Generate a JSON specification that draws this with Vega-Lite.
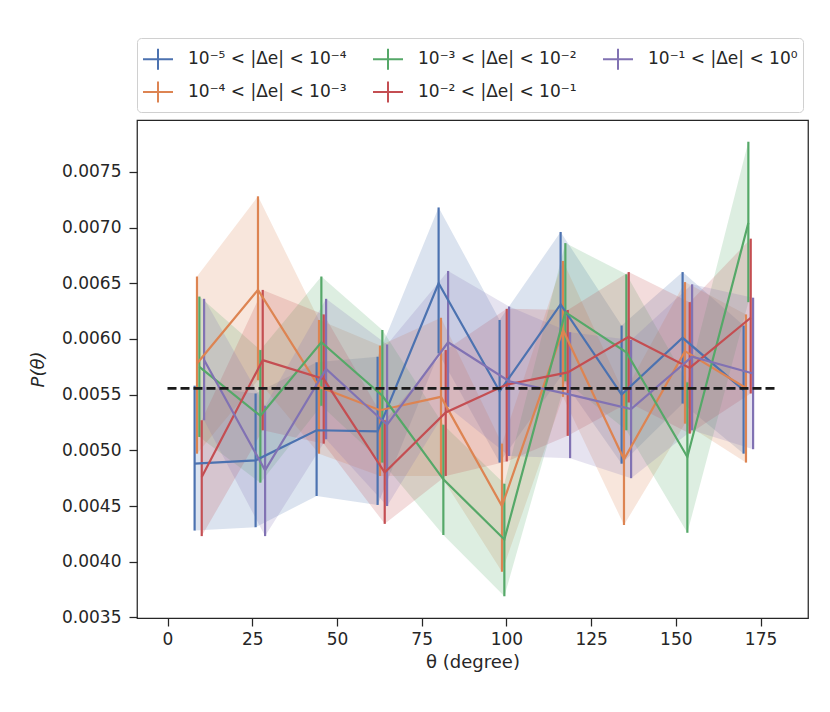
{
  "$schema": "https://vega.github.io/schema/vega-lite/v6.json",
  "autosize": {"type": "none"},
  "width": 671,
  "height": 498,
  "padding": {"left": 137, "top": 120, "right": 22, "bottom": 94},
  "background": "white",
  "datasets": {
    "bins": [
      {"g": "10⁻⁵ < |Δe| < 10⁻⁴", "x": 8.0, "y": 0.00488, "lo": 0.00428, "hi": 0.00558},
      {"g": "10⁻⁵ < |Δe| < 10⁻⁴", "x": 26.0, "y": 0.00491, "lo": 0.00431, "hi": 0.00551},
      {"g": "10⁻⁵ < |Δe| < 10⁻⁴", "x": 44.0, "y": 0.00518, "lo": 0.00459, "hi": 0.00579},
      {"g": "10⁻⁵ < |Δe| < 10⁻⁴", "x": 62.0, "y": 0.00517, "lo": 0.00451, "hi": 0.00584},
      {"g": "10⁻⁵ < |Δe| < 10⁻⁴", "x": 80.0, "y": 0.00650, "lo": 0.00587, "hi": 0.00718},
      {"g": "10⁻⁵ < |Δe| < 10⁻⁴", "x": 98.0, "y": 0.00553, "lo": 0.00489, "hi": 0.00617},
      {"g": "10⁻⁵ < |Δe| < 10⁻⁴", "x": 116.0, "y": 0.00631, "lo": 0.00566, "hi": 0.00696},
      {"g": "10⁻⁵ < |Δe| < 10⁻⁴", "x": 134.0, "y": 0.00550, "lo": 0.00488, "hi": 0.00612},
      {"g": "10⁻⁵ < |Δe| < 10⁻⁴", "x": 152.0, "y": 0.00601, "lo": 0.00542, "hi": 0.00660},
      {"g": "10⁻⁵ < |Δe| < 10⁻⁴", "x": 170.0, "y": 0.00554, "lo": 0.00497, "hi": 0.00612},

      {"g": "10⁻⁴ < |Δe| < 10⁻³", "x": 8.7, "y": 0.00578, "lo": 0.00497, "hi": 0.00656},
      {"g": "10⁻⁴ < |Δe| < 10⁻³", "x": 26.7, "y": 0.00644, "lo": 0.00563, "hi": 0.00728},
      {"g": "10⁻⁴ < |Δe| < 10⁻³", "x": 44.7, "y": 0.00557, "lo": 0.00497, "hi": 0.00617},
      {"g": "10⁻⁴ < |Δe| < 10⁻³", "x": 62.7, "y": 0.00536, "lo": 0.00477, "hi": 0.00594},
      {"g": "10⁻⁴ < |Δe| < 10⁻³", "x": 80.7, "y": 0.00548, "lo": 0.00477, "hi": 0.00619},
      {"g": "10⁻⁴ < |Δe| < 10⁻³", "x": 98.7, "y": 0.00450, "lo": 0.00391, "hi": 0.00506},
      {"g": "10⁻⁴ < |Δe| < 10⁻³", "x": 116.7, "y": 0.00608, "lo": 0.00548, "hi": 0.00670},
      {"g": "10⁻⁴ < |Δe| < 10⁻³", "x": 134.7, "y": 0.00492, "lo": 0.00433, "hi": 0.00551},
      {"g": "10⁻⁴ < |Δe| < 10⁻³", "x": 152.7, "y": 0.00589, "lo": 0.00524, "hi": 0.00651},
      {"g": "10⁻⁴ < |Δe| < 10⁻³", "x": 170.7, "y": 0.00556, "lo": 0.00489, "hi": 0.00622},

      {"g": "10⁻³ < |Δe| < 10⁻²", "x": 9.4, "y": 0.00575, "lo": 0.00512, "hi": 0.00638},
      {"g": "10⁻³ < |Δe| < 10⁻²", "x": 27.4, "y": 0.00531, "lo": 0.00471, "hi": 0.00590},
      {"g": "10⁻³ < |Δe| < 10⁻²", "x": 45.4, "y": 0.00597, "lo": 0.00540, "hi": 0.00656},
      {"g": "10⁻³ < |Δe| < 10⁻²", "x": 63.4, "y": 0.00549, "lo": 0.00489, "hi": 0.00608},
      {"g": "10⁻³ < |Δe| < 10⁻²", "x": 81.4, "y": 0.00474, "lo": 0.00424, "hi": 0.00523},
      {"g": "10⁻³ < |Δe| < 10⁻²", "x": 99.4, "y": 0.00420, "lo": 0.00369, "hi": 0.00470},
      {"g": "10⁻³ < |Δe| < 10⁻²", "x": 117.4, "y": 0.00624, "lo": 0.00562, "hi": 0.00686},
      {"g": "10⁻³ < |Δe| < 10⁻²", "x": 135.4, "y": 0.00588, "lo": 0.00518, "hi": 0.00658},
      {"g": "10⁻³ < |Δe| < 10⁻²", "x": 153.4, "y": 0.00494, "lo": 0.00426, "hi": 0.00561},
      {"g": "10⁻³ < |Δe| < 10⁻²", "x": 171.4, "y": 0.00704, "lo": 0.00633, "hi": 0.00777},

      {"g": "10⁻² < |Δe| < 10⁻¹", "x": 10.1, "y": 0.00476, "lo": 0.00423, "hi": 0.00527},
      {"g": "10⁻² < |Δe| < 10⁻¹", "x": 28.1, "y": 0.00581, "lo": 0.00518, "hi": 0.00644},
      {"g": "10⁻² < |Δe| < 10⁻¹", "x": 46.1, "y": 0.00564, "lo": 0.00506, "hi": 0.00622},
      {"g": "10⁻² < |Δe| < 10⁻¹", "x": 64.1, "y": 0.00480, "lo": 0.00434, "hi": 0.00527},
      {"g": "10⁻² < |Δe| < 10⁻¹", "x": 82.1, "y": 0.00534, "lo": 0.00477, "hi": 0.00590},
      {"g": "10⁻² < |Δe| < 10⁻¹", "x": 100.1, "y": 0.00559, "lo": 0.00490, "hi": 0.00627},
      {"g": "10⁻² < |Δe| < 10⁻¹", "x": 118.1, "y": 0.00570, "lo": 0.00513, "hi": 0.00626},
      {"g": "10⁻² < |Δe| < 10⁻¹", "x": 136.1, "y": 0.00602, "lo": 0.00543, "hi": 0.00660},
      {"g": "10⁻² < |Δe| < 10⁻¹", "x": 154.1, "y": 0.00574, "lo": 0.00515, "hi": 0.00633},
      {"g": "10⁻² < |Δe| < 10⁻¹", "x": 172.1, "y": 0.00619, "lo": 0.00551, "hi": 0.00690},

      {"g": "10⁻¹ < |Δe| < 10⁰", "x": 10.8, "y": 0.00581, "lo": 0.00527, "hi": 0.00636},
      {"g": "10⁻¹ < |Δe| < 10⁰", "x": 28.8, "y": 0.00482, "lo": 0.00423, "hi": 0.00540},
      {"g": "10⁻¹ < |Δe| < 10⁰", "x": 46.8, "y": 0.00573, "lo": 0.00510, "hi": 0.00636},
      {"g": "10⁻¹ < |Δe| < 10⁰", "x": 64.8, "y": 0.00523, "lo": 0.00450, "hi": 0.00595},
      {"g": "10⁻¹ < |Δe| < 10⁰", "x": 82.8, "y": 0.00597, "lo": 0.00539, "hi": 0.00661},
      {"g": "10⁻¹ < |Δe| < 10⁰", "x": 100.8, "y": 0.00562, "lo": 0.00495, "hi": 0.00629},
      {"g": "10⁻¹ < |Δe| < 10⁰", "x": 118.8, "y": 0.00550, "lo": 0.00493, "hi": 0.00606},
      {"g": "10⁻¹ < |Δe| < 10⁰", "x": 136.8, "y": 0.00537, "lo": 0.00475, "hi": 0.00599},
      {"g": "10⁻¹ < |Δe| < 10⁰", "x": 154.8, "y": 0.00584, "lo": 0.00518, "hi": 0.00649},
      {"g": "10⁻¹ < |Δe| < 10⁰", "x": 172.8, "y": 0.00569, "lo": 0.00501, "hi": 0.00637}
    ],
    "uniform": [
      {"x": 0, "y": 0.005556},
      {"x": 180, "y": 0.005556}
    ]
  },
  "data": {"name": "bins"},
  "encoding": {
    "x": {
      "field": "x",
      "type": "quantitative",
      "scale": {"domain": [-9, 189], "nice": false, "zero": false},
      "axis": {
        "values": [0, 25, 50, 75, 100, 125, 150, 175],
        "title": "θ (degree)"
      }
    }
  },
  "layer": [
    {
      "mark": {"type": "area", "opacity": 0.2},
      "encoding": {
        "y": {
          "field": "hi",
          "type": "quantitative",
          "scale": {"domain": [0.003495, 0.007965], "nice": false, "zero": false},
          "axis": {
            "values": [0.0035, 0.004, 0.0045, 0.005, 0.0055, 0.006, 0.0065, 0.007, 0.0075],
            "format": ".4f",
            "title": "P(θ)",
            "titleFontStyle": "italic"
          }
        },
        "y2": {"field": "lo"},
        "color": {
          "field": "g",
          "type": "nominal",
          "scale": {
            "domain": ["10⁻⁵ < |Δe| < 10⁻⁴", "10⁻⁴ < |Δe| < 10⁻³", "10⁻³ < |Δe| < 10⁻²", "10⁻² < |Δe| < 10⁻¹", "10⁻¹ < |Δe| < 10⁰"],
            "range": ["#4C72B0", "#DD8452", "#55A868", "#C44E52", "#8172B3"]
          },
          "legend": {
            "title": null,
            "orient": "none",
            "direction": "vertical",
            "legendX": 0,
            "legendY": -82,
            "columns": 3,
            "gridAlign": "all",
            "columnPadding": 22,
            "rowPadding": 2,
            "padding": 5,
            "symbolType": "M-1,0H1M0,-0.7V0.7",
            "symbolSize": 900,
            "symbolStrokeWidth": 2,
            "symbolOpacity": 1,
            "labelOffset": 14,
            "labelFontSize": 17,
            "labelFont": "DejaVu Sans",
            "labelColor": "#262626",
            "labelLimit": 300,
            "strokeColor": "#d0d0d0",
            "cornerRadius": 4,
            "fillColor": "white",
            "encode": {
              "symbols": {
                "update": {
                  "stroke": {"scale": "color", "field": "value"},
                  "fill": {"value": "transparent"},
                  "opacity": {"value": 1}
                }
              }
            }
          }
        }
      }
    },
    {
      "mark": {"type": "rule", "strokeWidth": 2.2},
      "encoding": {
        "y": {"field": "lo", "type": "quantitative"},
        "y2": {"field": "hi"},
        "color": {"field": "g", "type": "nominal"}
      }
    },
    {
      "mark": {"type": "line", "strokeWidth": 2.2},
      "encoding": {
        "y": {"field": "y", "type": "quantitative"},
        "color": {"field": "g", "type": "nominal"}
      }
    },
    {
      "data": {"name": "uniform"},
      "mark": {"type": "line", "color": "#1a1a1a", "strokeWidth": 2.6, "strokeDash": [9, 4]},
      "encoding": {
        "y": {"field": "y", "type": "quantitative"}
      }
    }
  ],
  "config": {
    "view": {"stroke": "#262626", "strokeWidth": 1.25},
    "font": "DejaVu Sans",
    "axis": {
      "grid": false,
      "domain": false,
      "ticks": true,
      "tickSize": 8,
      "tickWidth": 1.25,
      "tickColor": "#262626",
      "labelFont": "DejaVu Sans",
      "labelFontSize": 17,
      "labelColor": "#262626",
      "titleFont": "DejaVu Sans",
      "titleFontSize": 18,
      "titleFontWeight": "normal",
      "titleColor": "#262626"
    },
    "axisX": {"labelPadding": 5, "titlePadding": 6},
    "axisY": {"labelPadding": 8, "titlePadding": 14}
  }
}
